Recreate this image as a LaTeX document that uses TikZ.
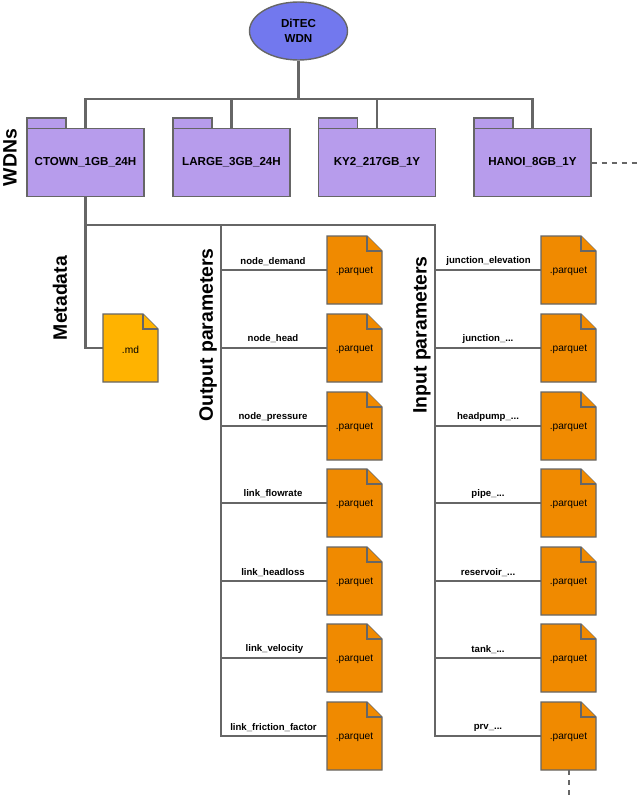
\documentclass[tikz,border=0pt]{standalone}
\usepackage{fontspec}
\setmainfont{Liberation Sans}
\usetikzlibrary{shapes.geometric}
\definecolor{linegray}{HTML}{666666}
\definecolor{rootblue}{HTML}{7278EE}
\definecolor{folderp}{HTML}{B79CEC}
\definecolor{pqorange}{HTML}{F08A00}
\definecolor{mdyellow}{HTML}{FFB300}
\tikzset{
  conn/.style={draw=linegray,line width=2.1pt},
  bus/.style={draw=linegray,line width=3pt},
  outl/.style={draw=linegray,line width=1.4pt},
  dashlink/.style={draw=linegray,line width=2pt,dash pattern=on 5pt off 5pt},
  rootnode/.style={ellipse,draw=linegray,line width=1.4pt,fill=rootblue,minimum width=98pt,minimum height=58pt,inner sep=0pt,align=center,font=\bfseries\fontsize{11.6}{15}\selectfont},
  body/.style={rectangle,outl,fill=folderp,minimum width=117pt,minimum height=68pt,inner sep=0pt,font=\bfseries\fontsize{11.6}{13}\selectfont},
  tabbox/.style={outl,fill=folderp},
  heading/.style={rotate=90,font=\bfseries\fontsize{19.4}{21}\selectfont,inner sep=0pt},
  edgelabel/.style={font=\bfseries\fontsize{9.6}{11}\selectfont,inner sep=0pt},
  filelabel/.style={font=\fontsize{10.2}{12}\selectfont,inner sep=0pt},
}
\newcommand{\tdots}{...}
% #1 name, #2 left x, #3 top y, #4 colour, #5 text
\newcommand{\docfile}[5]{%
  \path[outl,fill=#4] (#2,#3) -- ++(40,0) -- ++(15,15) -- ++(0,53) -- ++(-55,0) -- cycle;
  \path[outl,fill=#4] (#2+40,#3) -- ++(0,15) -- ++(15,0);
  \node[minimum width=55pt,minimum height=68pt,inner sep=0pt] (#1) at (#2+27.5,#3+34) {};
  \node[filelabel] at (#2+27.5,#3+35.5) {#5};
}
% #1 name, #2 left x, #3 tab width, #4 text
\newcommand{\folder}[4]{%
  \path[tabbox] (#2,128.5) rectangle ++(#3,-10.5);
  \node[body] (#1) at (#2+58.5,162.5) {#4};
}
\begin{document}
\begin{tikzpicture}[x=1pt,y=-1pt]
\useasboundingbox (0,0) rectangle (640,800);
\node[rootnode] (root) at (298.5,31) {DiTEC\\WDN};
\folder{f1}{27}{39}{CTOWN\_1GB\_24H}
\folder{f2}{173}{39}{LARGE\_3GB\_24H}
\folder{f3}{318.5}{39}{KY2\_217GB\_1Y}
\folder{f4}{474}{39}{HANOI\_8GB\_1Y}
\coordinate (busa) at (f1.north |- 0,99);
\coordinate (busd) at (f4.north |- 0,99);
\coordinate (busm) at (root.south |- 0,99);
\draw[bus] (root.south) -- (busm);
\draw[conn] (f1.north) -- (busa) -- (busd) -- (f4.north);
\draw[conn] (f2.north) -- (f2.north |- busa);
\draw[conn] (f3.north) -- (f3.north |- busa);
\coordinate (dashend) at (640,162.5);
\draw[dashlink] (f4.east) -- (dashend);

\node[heading] at (10,157.5) {WDNs};
\node[heading] at (60,298) {Metadata};
\node[heading] at (208,335) {Output parameters};
\node[heading] at (422,335) {Input parameters};

\docfile{md}{103}{314}{mdyellow}{.md}
\foreach \n/\y in {a/236,b/314,c/392,d/469,e/547,f/624,g/702}{
  \docfile{o\n}{327}{\y}{pqorange}{.parquet}
  \docfile{i\n}{541}{\y}{pqorange}{.parquet}
}
\coordinate (trunk) at (f1.south |- 0,225);
\coordinate (outtop) at (221,225);
\coordinate (intop) at (435,225);
\coordinate (outbot) at (221,736);
\coordinate (inbot) at (435,736);
\draw[bus] (f1.south) -- (trunk);
\draw[conn] (trunk) -- (intop) -- (inbot) -- (ig.west |- inbot);
\draw[conn] (outtop) -- (outbot) -- (og.west |- outbot);
\coordinate (mdc) at (f1.south |- md.west);
\draw[conn] (trunk) -- (mdc) -- (md.west);
\foreach \n in {a,b,c,d,e,f}{
  \draw[conn] (o\n.west) -- (o\n.west -| outtop);
  \draw[conn] (i\n.west) -- (i\n.west -| intop);
}
\coordinate (dashbot) at (ig.south |- 0,800);
\draw[dashlink] (ig.south) -- (dashbot);

\foreach \t/\x/\y in {node\_demand/273/261.5,node\_head/273/338.5,node\_pressure/273/417,link\_flowrate/273/493.5,link\_headloss/273/572.5,link\_velocity/274.5/649.5,link\_friction\_factor/273.5/727.5,
  junction\_elevation/488.5/261.5,junction\_\tdots/488/339,headpump\_\tdots/488/417,pipe\_\tdots/488/494.5,reservoir\_\tdots/488/572.5,tank\_\tdots/488/649.5,prv\_\tdots/488/727.5}{
  \node[edgelabel] at (\x,\y) {\t};
}
\end{tikzpicture}
\end{document}
